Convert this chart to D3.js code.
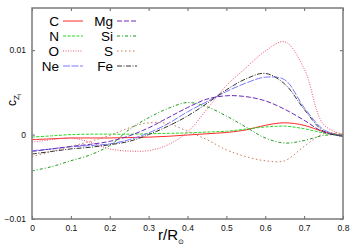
<!DOCTYPE html>
<html>
<head>
<meta charset="utf-8">
<script src="https://cdn.jsdelivr.net/npm/d3@7"></script>
<style>
  body { margin: 0; background: #fff; }
  svg { font-family: "Liberation Sans", Arial, sans-serif; }
</style>
</head>
<body>
<svg width="356" height="249"></svg>
<script>
// radius grid, r/R_sun
var radius = [0, 0.05, 0.1, 0.15, 0.2, 0.25, 0.3, 0.35, 0.4, 0.45, 0.5, 0.55, 0.6, 0.65, 0.7, 0.75, 0.8];

// values, in units of 1e-3
var cC  = [-0.6, -0.5, -0.4, -0.4, -0.4, -0.35, -0.3, -0.2, -0.05, 0.1, 0.25, 0.55, 1.1, 1.4, 1.1, 0.35, -0.1];
var cN  = [-0.3, -0.15, 0.0, 0.05, 0.05, 0.05, 0.1, 0.15, 0.2, 0.3, 0.4, 0.65, 0.9, 1.0, 0.7, 0.2, -0.1];
var cO  = [-0.9, -0.6, -0.4, -0.9, -1.7, -1.95, -1.9, -1.2, 0.3, 3.0, 5.8, 7.9, 9.9, 11.0, 7.8, 1.2, 0.0];
var cNe = [-1.9, -1.7, -1.45, -1.3, -1.1, -0.6, 0.2, 1.3, 2.7, 3.9, 5.1, 6.1, 6.8, 6.5, 3.2, 0.6, -0.2];
var cMg = [-2.0, -1.7, -1.4, -1.15, -0.8, -0.15, 0.8, 2.0, 3.2, 4.2, 4.6, 4.5, 4.0, 3.0, 1.7, 0.3, -0.2];
var cSi = [-4.3, -3.8, -3.1, -2.4, -1.3, 0.6, 2.0, 3.1, 3.8, 3.3, 2.2, 0.9, -0.4, -1.0, -0.7, -0.1, 0.0];
var cS  = [-2.6, -2.0, -1.4, -0.8, -0.1, 0.8, 1.4, 1.3, 0.4, -0.6, -1.8, -2.6, -3.1, -3.1, -1.4, 0.1, 0.1];
var cFe = [-2.3, -2.0, -1.7, -1.5, -1.2, -0.8, 0.0, 1.0, 2.2, 3.7, 5.3, 6.6, 7.25, 6.0, 3.0, 0.4, -0.2];

var xTicks = [0, 0.1, 0.2, 0.3, 0.4, 0.5, 0.6, 0.7, 0.8];
var yTicks = [-0.01, 0, 0.01];

var series = [
    { name: "C",  values: cC,  color: "#ff2a2a", dash: null },
    { name: "N",  values: cN,  color: "#22dd22", dash: "3,1.5" },
    { name: "O",  values: cO,  color: "#f05070", dash: "1,1.5" },
    { name: "Ne", values: cNe, color: "#7878ff", dash: "7,1.5" },
    { name: "Mg", values: cMg, color: "#6a2cb8", dash: "5,2" },
    { name: "Si", values: cSi, color: "#1f9a1f", dash: "3,2,1,2" },
    { name: "S",  values: cS,  color: "#c47a55", dash: "1.5,2.5" },
    { name: "Fe", values: cFe, color: "#333333", dash: "5,1.5,1,1.5" }
];

var svg = d3.select("svg");
var margin = { top: 8, right: 13, bottom: 30, left: 32 };
var width = +svg.attr("width") - margin.left - margin.right;
var height = +svg.attr("height") - margin.top - margin.bottom;
var g = svg.append("g").attr("transform", "translate(" + margin.left + "," + margin.top + ")");

var xScale = d3.scaleLinear().domain([0, 0.8]).range([0, width]);
var yScale = d3.scaleLinear().domain([-0.01, 0.015]).range([height, 0]);

// axes, ticks pointing inward like gnuplot
var axisStyle = function (sel) {
    sel.select(".domain").remove();
    sel.selectAll("line").attr("stroke", "#666");
    sel.selectAll("text").attr("fill", "#111").style("font-size", "8.5px");
};

g.append("g")
    .attr("transform", "translate(0," + height + ")")
    .call(d3.axisBottom(xScale).tickValues(xTicks).tickSize(-3).tickPadding(6).tickFormat(d3.format("")))
    .call(axisStyle);

g.append("g")
    .call(d3.axisTop(xScale).tickValues(xTicks).tickSize(-3).tickFormat(""))
    .call(axisStyle);

g.append("g")
    .call(d3.axisLeft(yScale).tickValues(yTicks).tickSize(-3).tickPadding(6).tickFormat(d3.format("")))
    .call(axisStyle);

g.append("g")
    .attr("transform", "translate(" + width + ",0)")
    .call(d3.axisRight(yScale).tickValues(yTicks).tickSize(-3).tickFormat(""))
    .call(axisStyle);

var line = d3.line()
    .x(function (d, i) { return xScale(radius[i]); })
    .y(function (d) { return yScale(d / 1000); })
    .curve(d3.curveCatmullRom.alpha(0.5));

series.forEach(function (s) {
    g.append("path")
        .attr("d", line(s.values))
        .attr("fill", "none")
        .attr("stroke", s.color)
        .attr("stroke-width", 1)
        .attr("stroke-dasharray", s.dash);
});

// frame
g.append("rect")
    .attr("width", width)
    .attr("height", height)
    .attr("fill", "none")
    .attr("stroke", "#7a7a7a")
    .attr("stroke-width", 1.5);

// legend, two columns
var legend = svg.append("g");
series.forEach(function (s, i) {
    var col = Math.floor(i / 4);
    var row = i % 4;
    var lx = col === 0 ? 59 : 113;
    var ly = 21 + row * 15;
    legend.append("text")
        .attr("x", lx)
        .attr("y", ly)
        .attr("dy", "0.35em")
        .attr("text-anchor", "end")
        .style("font-size", "13.5px")
        .attr("fill", "#000")
        .text(s.name);
    legend.append("line")
        .attr("x1", lx + 4)
        .attr("x2", lx + 24)
        .attr("y1", ly)
        .attr("y2", ly)
        .attr("stroke", s.color)
        .attr("stroke-width", 1)
        .attr("stroke-dasharray", s.dash);
});

// axis labels
var ylab = svg.append("text")
    .attr("transform", "translate(16,100) rotate(-90)")
    .attr("text-anchor", "middle")
    .style("font-size", "12px");
ylab.append("tspan").text("c");
ylab.append("tspan").attr("dy", 3).style("font-size", "8px").text("Z");
ylab.append("tspan").attr("dy", 2).style("font-size", "6px").text("i");

var xlab = svg.append("text")
    .attr("x", 158)
    .attr("y", 240)
    .style("font-size", "15px");
xlab.append("tspan").text("r/R");
xlab.append("tspan").attr("dy", 4).style("font-size", "7px").text("\u2299");
</script>
</body>
</html>
